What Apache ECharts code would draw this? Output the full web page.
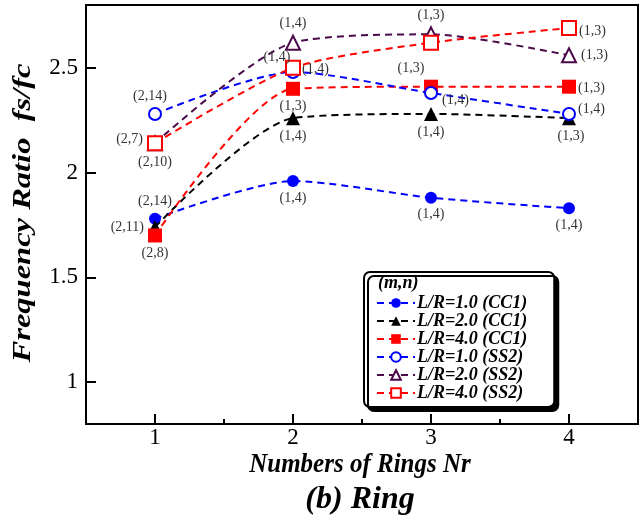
<!DOCTYPE html>
<html><head><meta charset="utf-8">
<script src="https://cdn.jsdelivr.net/npm/echarts@6/dist/echarts.min.js"></script>
<style>html,body{margin:0;padding:0;background:#fff}#c{width:641px;height:521px}</style>
</head><body><div id="c"></div>
<script>
const rings = [1, 2, 3, 4];
const yTicks = [1, 1.5, 2, 2.5];
const xTicks = [1, 2, 3, 4];
const xMinorTicks = [0.5, 1.5, 2.5, 3.5];
const xTitle = 'Numbers of Rings Nr';
const yTitle = 'Frequency Ratio  fs/fc';
const caption = '(b) Ring';
const legendTitle = '(m,n)';
const seriesNames = ['L/R=1.0 (CC1)', 'L/R=2.0 (CC1)', 'L/R=4.0 (CC1)', 'L/R=1.0 (SS2)', 'L/R=2.0 (SS2)', 'L/R=4.0 (SS2)'];
const cc1_10 = [1.78, 1.96, 1.88, 1.83];
const cc1_20 = [1.74, 2.26, 2.28, 2.26];
const cc1_40 = [1.70, 2.40, 2.41, 2.41];
const ss2_10 = [2.28, 2.48, 2.38, 2.28];
const ss2_20 = [2.14, 2.62, 2.66, 2.56];
const ss2_40 = [2.14, 2.50, 2.62, 2.69];
const lbl_cc1_10 = ['(2,14)', '(1,4)', '(1,4)', '(1,4)'];
const lbl_cc1_20 = ['(2,11)', '(1,4)', '(1,4)', '(1,3)'];
const lbl_cc1_40 = ['(2,8)', '(1,3)', '(1,3)', '(1,3)'];
const lbl_ss2_10 = ['(2,14)', '(1,4)', '(1,4)', '(1,4)'];
const lbl_ss2_20 = ['(2,7)', '(1,4)', '(1,3)', '(1,3)'];
const lbl_ss2_40 = ['(2,10)', '(1,4)', '', '(1,3)'];

const values = [cc1_10, cc1_20, cc1_40, ss2_10, ss2_20, ss2_40];
const labels = [lbl_cc1_10, lbl_cc1_20, lbl_cc1_40, lbl_ss2_10, lbl_ss2_20, lbl_ss2_40];

// styling
const colors = ['#0000ff', '#000000', '#ff0000', '#0000ff', '#4a0a4a', '#ff0000'];
const symbols = ['circle', 'triangle', 'rect', 'circle', 'triangle', 'rect'];
const filled = [true, true, true, false, false, false];
const symSizes = [12, 14, 14, 12, 14, 14];
const labelPos = [
  [['top',[0,0]], ['bottom',[0,0]], ['bottom',[0,0]], ['bottom',[0,0]]],
  [['left',[0,0]], ['bottom',[0,0]], ['bottom',[0,0]], ['bottom',[2,0]]],
  [['bottom',[0,0]], ['bottom',[0,0]], ['top',[-20,0]], ['right',[-2,2]]],
  [['top',[-5,0]], ['right',[-2,-3]], ['right',[0,7]], ['right',[-2,-5]]],
  [['left',[0,-4]], ['top',[0,0]], ['top',[0,0]], ['right',[0,0]]],
  [['bottom',[0,0]], ['top',[-16,8]], ['top',[0,0]], ['right',[-2,3]]]
];
const serif = '"Liberation Serif", "Times New Roman", serif';
const titleFont = { fontFamily: serif, fontWeight: 'bold', fontStyle: 'italic', fill: '#000' };

const series = values.map((vals, si) => ({
  name: seriesNames[si],
  type: 'line',
  smooth: 0.25,
  symbol: symbols[si],
  symbolSize: symSizes[si],
  showAllSymbol: true,
  lineStyle: { color: colors[si], width: 2, type: [7, 5] },
  itemStyle: filled[si]
    ? { color: colors[si], borderColor: colors[si], borderWidth: 0 }
    : { color: '#ffffff', borderColor: colors[si], borderWidth: 2 },
  z: 2 + si,
  data: vals.map((v, i) => ({
    value: [rings[i], v],
    label: {
      show: labels[si][i] !== '',
      formatter: labels[si][i],
      position: labelPos[si][i][0],
      offset: labelPos[si][i][1],
      distance: 4,
      color: '#333',
      fontFamily: serif,
      fontSize: 14
    }
  }))
}));

const chart = echarts.init(document.getElementById('c'));
chart.setOption({
  animation: false,
  backgroundColor: '#fff',
  grid: { left: 86, right: 3, top: 5, bottom: 97, show: true, borderColor: '#000', borderWidth: 2, backgroundColor: 'transparent' },
  legend: {
    orient: 'vertical', left: 364, top: 272,
    padding: [22, 27, 5, 12],
    itemGap: 0, itemWidth: 38, itemHeight: 12,
    backgroundColor: '#fff', borderColor: '#000', borderWidth: 2, borderRadius: 6,
    shadowColor: '#000', shadowBlur: 0, shadowOffsetX: 4, shadowOffsetY: 4,
    textStyle: { fontFamily: serif, fontSize: 18, fontWeight: 'bold', fontStyle: 'italic', color: '#000', padding: [0,0,0,-3], lineHeight: 17 },
    data: seriesNames
  },
  graphic: [{
    type: 'text', left: 378, top: 274, z: 100,
    style: Object.assign({ text: legendTitle, fontSize: 18 }, titleFont)
  }, {
    type: 'text', x: 24, y: 213, rotation: Math.PI / 2, scaleX: 1.3, z: 100,
    style: Object.assign({ text: yTitle, fontSize: 25, textAlign: 'center', textVerticalAlign: 'middle' }, titleFont)
  }, {
    type: 'text', x: 360, y: 465, scaleY: 1.1, z: 100,
    style: Object.assign({ text: xTitle, fontSize: 25, textAlign: 'center', textVerticalAlign: 'middle' }, titleFont)
  }, {
    type: 'text', x: 360, y: 500, z: 100,
    style: Object.assign({ text: caption, fontSize: 32, textAlign: 'center', textVerticalAlign: 'middle' }, titleFont)
  }],
  xAxis: [{
    type: 'value', min: 0.5, max: 4.5,
    axisLine: { show: true, lineStyle: { color: '#000', width: 2 } },
    axisTick: { show: true, inside: true, length: 10, customValues: xTicks, lineStyle: { color: '#000', width: 2 } },
    axisLabel: { customValues: xTicks, fontFamily: serif, fontSize: 23, color: '#000', margin: 2 },
    splitLine: { show: false }
  }, {
    type: 'value', min: 0.5, max: 4.5, position: 'bottom',
    axisLine: { show: false },
    axisTick: { show: true, inside: true, length: 5, customValues: xMinorTicks, lineStyle: { color: '#000', width: 2 } },
    axisLabel: { show: false },
    splitLine: { show: false }
  }],
  yAxis: {
    type: 'value', min: 0.8, max: 2.8,
    axisLine: { show: true, lineStyle: { color: '#000', width: 2 } },
    axisTick: { show: true, inside: true, length: 10, customValues: yTicks, lineStyle: { color: '#000', width: 2 } },
    axisLabel: { customValues: yTicks, fontFamily: serif, fontSize: 23, color: '#000', margin: 8 },
    splitLine: { show: false }
  },
  series: series
});
</script></body></html>
